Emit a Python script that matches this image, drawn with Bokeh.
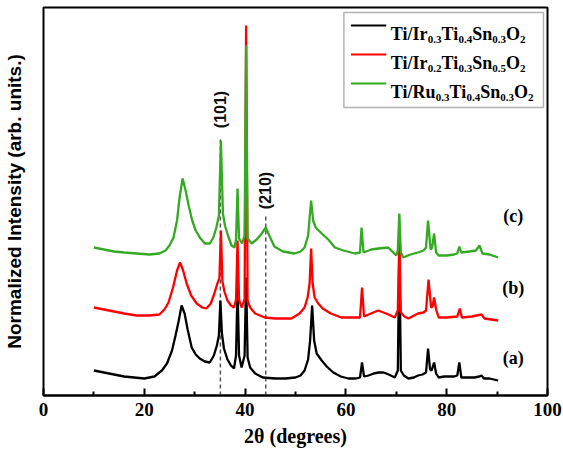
import math
from bokeh.plotting import figure
from bokeh.models import Label, BoxAnnotation, FixedTicker, Range1d, LinearAxis
from bokeh.embed import file_html
from bokeh.resources import INLINE

# ---------------- data (2theta in degrees, intensity in arb. units) ----------------
two_theta_a = [10, 12, 14, 16, 18, 20, 22, 23.5, 24.5, 25.5, 26.2, 26.8, 27.4, 28.0, 28.6, 29.4,
               30.2, 31.0, 32.0, 33.0, 33.8, 34.4, 34.8, 35.1, 35.4, 35.8, 36.5, 37.2, 37.8, 38.2,
               38.5, 38.8, 39.3, 39.9, 40.2, 40.5, 41.0, 42.0, 43.5, 46.0, 48.0, 50.0, 51.0, 51.8,
               52.5, 52.9, 53.3, 53.7, 54.2, 55.2, 56.2, 57.5, 59.0, 60.5, 62.0, 62.8, 63.2, 63.6,
               64.5, 65.5, 66.5, 67.5, 68.5, 69.7, 70.3, 70.6, 70.9, 71.5, 72.4, 73.5, 74.3, 75.2,
               75.9, 76.3, 76.7, 77.0, 77.5, 77.9, 78.4, 79.5, 80.5, 81.5, 82.1, 82.5, 82.9, 84.0,
               85.5, 86.5, 86.9, 87.4, 88.5, 90.2]
intensity_a = [25, 23, 21, 19, 18, 17, 19, 25, 32, 45, 60, 74, 90, 82, 66, 48,
               41, 37, 34, 33, 40, 50, 60, 95, 62, 47, 36, 30, 27, 40,
               108, 40, 28, 40, 118, 38, 28, 22, 18, 17, 17, 18, 20, 25,
               36, 55, 90, 55, 42, 35, 29, 23, 19, 17, 17, 18, 33, 19,
               20, 22, 23, 23, 21, 18, 25, 145, 25, 20, 17, 18, 20, 21,
               23, 47, 26, 25, 33, 22, 18, 19, 19, 19, 20, 33, 18, 18,
               18, 19, 20, 17, 17, 15]

two_theta_b = [10, 12, 14, 16, 18.5, 21, 23.0, 24.0, 24.8, 25.7, 26.5, 27.1, 27.7, 28.4, 29.3,
               30.4, 31.5, 32.3, 33.2, 33.9, 34.5, 34.9, 35.2, 35.5, 35.9, 36.5, 37.2, 37.8, 38.2,
               38.5, 38.8, 39.3, 39.9, 40.2, 40.5, 41.0, 42.0, 43.9, 46.0, 49.2, 50.8, 51.8, 52.4,
               52.8, 53.1, 53.4, 53.8, 54.5, 55.4, 57.0, 59.1, 61.0, 62.8, 63.2, 63.6, 64.5, 66.4,
               68.0, 69.7, 70.3, 70.6, 70.9, 71.6, 72.4, 74.3, 75.4, 75.9, 76.4, 76.9, 77.2, 77.5,
               77.9, 78.4, 80.0, 82.1, 82.6, 83.0, 85.0, 86.9, 87.5, 90.2]
intensity_b = [88, 86, 84, 82, 80, 80, 81, 86, 93, 108, 125, 133, 125, 112, 100,
               92, 88, 87, 92, 102, 112, 117, 165, 114, 104, 95, 90, 88, 96,
               155, 96, 88, 96, 370, 95, 88, 82, 78, 77, 77, 82, 88, 98,
               112, 147, 112, 98, 92, 87, 82, 78, 78, 78, 108, 79, 81, 85,
               82, 78, 85, 155, 83, 79, 77, 82, 83, 85, 116, 88, 89, 98,
               86, 78, 78, 79, 87, 78, 79, 81, 77, 75]

two_theta_c = [10, 12, 14, 16, 18.5, 21, 23.0, 24.2, 25.0, 25.8, 26.5, 27.0, 27.6, 28.2, 28.8,
               29.5, 30.2, 31.0, 32.0, 33.0, 33.7, 34.3, 34.8, 35.2, 35.6, 36.0, 36.6, 37.3, 37.9,
               38.2, 38.5, 38.8, 39.4, 39.9, 40.2, 40.5, 41.3, 42.3, 43.3, 44.1, 44.8, 45.8, 47.5,
               49.8, 51.0, 51.8, 52.5, 53.1, 53.5, 54.0, 55.2, 56.5, 57.8, 59.5, 61.8, 62.8, 63.1,
               63.5, 65.0, 66.5, 68.4, 70.0, 70.3, 70.6, 70.9, 71.4, 72.8, 74.3, 75.4, 75.9, 76.3,
               76.8, 77.1, 77.5, 77.9, 78.4, 80.0, 81.5, 82.1, 82.5, 82.9, 84.5, 85.8, 86.5, 87.1,
               88.5, 90.2]
intensity_c = [148, 146, 144, 143, 142, 141, 142, 145, 150, 158, 175, 198, 217, 205, 190,
               175, 165, 158, 152, 152, 158, 168, 180, 255, 182, 170, 160, 150, 148,
               156, 207, 157, 152, 160, 350, 157, 152, 156, 162, 168, 160, 149, 144,
               142, 144, 148, 160, 195, 175, 168, 162, 156, 148, 145, 142, 143, 168,
               143, 146, 147, 148, 140, 145, 182, 143, 138, 141, 143, 145, 148, 175,
               146, 148, 162, 143, 140, 140, 141, 142, 149, 143, 144, 145, 150, 142,
               141, 138]

series_colors = ["#000000", "#ff0000", "#33aa22"]
legend_rows = [
    ["Ti/Ir", "0.3", "Ti", "0.4", "Sn", "0.3", "O", "2"],
    ["Ti/Ir", "0.2", "Ti", "0.3", "Sn", "0.5", "O", "2"],
    ["Ti/Ru", "0.3", "Ti", "0.4", "Sn", "0.3", "O", "2"],
]
sample_tags = ["(a)", "(b)", "(c)"]
sample_tag_y = [38, 108, 180]
peak_pos = [35.1, 44.1]
peak_names = ["(101)", "(210)"]
peak_line_top = [258, 182]
peak_label_y = [286, 205]
x_ticks = [0, 20, 40, 60, 80, 100]
x_minor = [10, 30, 50, 70, 90]

# Times New Roman Bold advance widths (per 1000 em)
TNRB = {"T": 667, "i": 278, "/": 278, "I": 389, "r": 444, "R": 722, "u": 556, "S": 556,
        "n": 556, "O": 778, ".": 250}


def tw(s, size):
    return sum(TNRB.get(ch, 500) for ch in s) * size / 1000.0


# ---------------- figure ----------------
p = figure(width=563, height=456, x_range=Range1d(0, 100), y_range=Range1d(0, 388),
           output_backend="svg", toolbar_location=None, y_axis_location=None,
           min_border_left=42, min_border_right=16, min_border_top=7, min_border_bottom=61)
p.grid.visible = False
p.outline_line_color = "black"
p.outline_line_width = 2
p.background_fill_color = "white"
p.border_fill_color = "white"

ax = p.xaxis[0]
ax.ticker = FixedTicker(ticks=x_ticks, minor_ticks=x_minor)
ax.axis_line_width = 2
ax.major_tick_in = 7
ax.major_tick_out = 0
ax.minor_tick_in = 4
ax.minor_tick_out = 0
ax.major_tick_line_width = 2
ax.minor_tick_line_width = 2
ax.major_label_text_font = "Liberation Serif"
ax.major_label_text_font_style = "bold"
ax.major_label_text_font_size = "19px"
ax.major_label_text_color = "black"
ax.major_label_standoff = 7
ax.axis_label = "2θ (degrees)"
ax.axis_label_text_font = "Liberation Serif"
ax.axis_label_text_font_style = "bold"
ax.axis_label_text_font_size = "20px"
ax.axis_label_text_color = "black"
ax.axis_label_standoff = 6

# left axis used only for its title
yax = LinearAxis(ticker=FixedTicker(ticks=[]), axis_line_color=None,
                 major_tick_line_color=None, minor_tick_line_color=None,
                 major_tick_in=0, major_tick_out=0, minor_tick_in=0, minor_tick_out=0,
                 major_label_standoff=0, major_label_text_font_size="0px",
                 axis_label="Normalized Intensity (arb. units.)",
                 axis_label_text_font="Liberation Sans", axis_label_text_font_style="bold",
                 axis_label_text_font_size="19px", axis_label_text_color="black",
                 axis_label_standoff=19)
p.add_layout(yax, "left")

# dashed reference lines
p.segment(x0=peak_pos, y0=[0, 0], x1=peak_pos, y1=peak_line_top,
          line_color="#555555", line_width=1.5, line_dash="4 3")

# curves
for xs, ys, c in [(two_theta_a, intensity_a, series_colors[0]),
                  (two_theta_b, intensity_b, series_colors[1]),
                  (two_theta_c, intensity_c, series_colors[2])]:
    p.line(xs, ys, line_color=c, line_width=2.3)

# peak labels
for xp, name, yl in zip(peak_pos, peak_names, peak_label_y):
    p.add_layout(Label(x=xp, y=yl, text=name, angle=math.pi / 2, text_align="center",
                       text_baseline="middle", text_font="Liberation Sans",
                       text_font_style="bold", text_font_size="16px", text_color="#111111"))

# sample tags
for tag, yt in zip(sample_tags, sample_tag_y):
    p.add_layout(Label(x=93.2, y=yt, text=tag, text_align="center", text_baseline="middle",
                       text_font="Liberation Serif", text_font_style="bold",
                       text_font_size="18px", text_color="black"))

# legend (manual, to allow subscripts)
box = BoxAnnotation(left=59.6, right=99.2, bottom=288, top=383, fill_color="white",
                    fill_alpha=1.0, line_color="black", line_width=1.5, level="underlay")
p.add_layout(box)
row_base = [362, 333, 304]
p.segment(x0=[61.0] * 3, x1=[68.0] * 3, y0=[b + 8 for b in row_base],
          y1=[b + 8 for b in row_base], line_color=series_colors, line_width=2)
MAIN, SUB = 18, 11
for pieces, base in zip(legend_rows, row_base):
    off = 0.0
    for k, s in enumerate(pieces):
        is_sub = (k % 2 == 1)
        size = SUB if is_sub else MAIN
        p.add_layout(Label(x=68.9, y=base - (6 if is_sub else 0), x_offset=off, text=s,
                           text_align="left", text_baseline="alphabetic",
                           text_font="Liberation Serif", text_font_style="bold",
                           text_font_size=f"{size}px", text_color="black"))
        off += tw(s, size)

open("out.html", "w").write(file_html(p, INLINE))
